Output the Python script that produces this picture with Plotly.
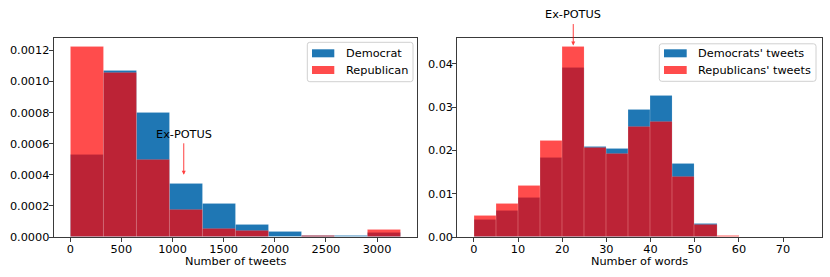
import plotly.graph_objects as go

# ---------------- data ----------------
tweet_bin_edges = [0, 323.2, 646.4, 969.6, 1292.8, 1616.0, 1939.2, 2262.4, 2585.6, 2908.8, 3232.0]
dem_tweets = [0.000528, 0.00107, 0.000800, 0.000339, 0.000212, 0.000077, 0.000032, 0.000005, 0.000008, 0.000028]
rep_tweets = [0.00122, 0.001054, 0.000496, 0.000178, 0.000054, 0.000037, 0.000004, 0.000010, 0.000002, 0.000045]

word_bin_edges = [0, 5, 10, 15, 20, 25, 30, 35, 40, 45, 50, 55, 60, 65, 70, 75]
dem_words = [0.00387, 0.00596, 0.00905, 0.01842, 0.0392, 0.0208, 0.02035, 0.0293, 0.0327, 0.01687, 0.0030, 0.0001, 0, 0, 0]
rep_words = [0.00487, 0.00775, 0.01183, 0.0222, 0.04385, 0.0207, 0.0192, 0.02545, 0.0266, 0.01385, 0.0028, 0.0002, 0, 0, 0]

left_legend = ["Democrat", "Republican"]
right_legend = ["Democrats' tweets", "Republicans' tweets"]
annot_text = "Ex-POTUS"
x_titles = ["Number of tweets", "Number of words"]

# ---------------- style ----------------
W, H = 830, 277
FONT = "DejaVu Sans"
FS = 11.3
BLUE = "#1f77b4"
RED = "rgba(255,0,0,0.7)"
SPINE = "#3a3a3a"
EDGE = dict(color="rgba(255,255,255,0.25)", width=0.5)


def centers(edges):
    return [(a + b) / 2 for a, b in zip(edges[:-1], edges[1:])]


def widths(edges):
    return [b - a for a, b in zip(edges[:-1], edges[1:])]


def px(x):
    return x / W


def py(y):
    return 1 - y / H


fig = go.Figure()

for edges, dem, rep, xa, ya in [
    (tweet_bin_edges, dem_tweets, rep_tweets, "x", "y"),
    (word_bin_edges, dem_words, rep_words, "x2", "y2"),
]:
    fig.add_trace(go.Bar(x=centers(edges), y=dem, width=widths(edges), xaxis=xa, yaxis=ya,
                         marker=dict(color=BLUE, line=EDGE), showlegend=False))
    fig.add_trace(go.Bar(x=centers(edges), y=rep, width=widths(edges), xaxis=xa, yaxis=ya,
                         marker=dict(color=RED, line=EDGE), showlegend=False))

# axes geometry (pixels)
L_x0, L_x1 = 53.7, 417.3
R_x0, R_x1 = 457.3, 821.7
Y_top, Y_bot = 37.8, 237.0

axis_common = dict(showline=True, linecolor=SPINE, linewidth=1, mirror=True, ticks="outside",
                   ticklen=4, tickwidth=1, tickcolor=SPINE, showgrid=False, zeroline=False,
                   automargin=False, tickfont=dict(family=FONT, size=FS, color="black"))

lmax = tweet_bin_edges[-1]
rmax = word_bin_edges[-1]
ly = max(max(dem_tweets), max(rep_tweets)) * 1.05
ry = max(max(dem_words), max(rep_words)) * 1.05

fig.update_layout(
    width=W, height=H, autosize=False,
    margin=dict(l=0, r=0, t=0, b=0, autoexpand=False),
    paper_bgcolor="white", plot_bgcolor="white",
    barmode="overlay", bargap=0,
    font=dict(family=FONT, size=FS, color="black"),
    xaxis=dict(domain=[px(L_x0), px(L_x1)], range=[-0.05 * lmax, 1.05 * lmax], dtick=500, tick0=0,
               anchor="y", ticklabelstandoff=-3, **axis_common),
    yaxis=dict(domain=[py(Y_bot), py(Y_top)], range=[0, ly], dtick=0.0002, tickformat=".4f",
               anchor="x", ticklabelstandoff=-3, **axis_common),
    xaxis2=dict(domain=[px(R_x0), px(R_x1)], range=[-0.05 * rmax, 1.05 * rmax], dtick=10, tick0=0,
                anchor="y2", ticklabelstandoff=-3, **axis_common),
    yaxis2=dict(domain=[py(Y_bot), py(Y_top)], range=[0, ry], dtick=0.01, tickformat=".2f",
                anchor="x2", ticklabelstandoff=-3, **axis_common),
)

# axis titles
for title, xc in zip(x_titles, [(L_x0 + L_x1) / 2, (R_x0 + R_x1) / 2]):
    fig.add_annotation(x=px(xc), y=py(261), xref="paper", yref="paper", text=title, showarrow=False,
                       xanchor="center", yanchor="middle", font=dict(family=FONT, size=FS, color="black"))

# ---------------- annotations ----------------
fig.add_annotation(x=1110, y=0.0004, xref="x", yref="y", text="", showarrow=True,
                   ax=0, ay=-33, arrowhead=2, arrowsize=0.8, arrowwidth=1, arrowcolor="rgba(255,0,0,0.75)")
fig.add_annotation(x=1110, y=py(134), xref="x", yref="paper", text=annot_text, showarrow=False,
                   font=dict(family=FONT, size=FS, color="black"), xanchor="center", yanchor="middle")
fig.add_annotation(x=22.5, y=0.04425, xref="x2", yref="y2", text="", showarrow=True,
                   ax=0, ay=-23, arrowhead=2, arrowsize=0.8, arrowwidth=1, arrowcolor="rgba(255,0,0,0.75)")
fig.add_annotation(x=22.5, y=py(15), xref="x2", yref="paper", text=annot_text, showarrow=False,
                   font=dict(family=FONT, size=FS, color="black"), xanchor="center", yanchor="middle")


# ---------------- manual legends ----------------
def rounded_rect(x0, y0, x1, y1, r=2.5):
    pts = [
        f"M {px(x0 + r)},{py(y0)}", f"L {px(x1 - r)},{py(y0)}", f"Q {px(x1)},{py(y0)} {px(x1)},{py(y0 + r)}",
        f"L {px(x1)},{py(y1 - r)}", f"Q {px(x1)},{py(y1)} {px(x1 - r)},{py(y1)}",
        f"L {px(x0 + r)},{py(y1)}", f"Q {px(x0)},{py(y1)} {px(x0)},{py(y1 - r)}",
        f"L {px(x0)},{py(y0 + r)}", f"Q {px(x0)},{py(y0)} {px(x0 + r)},{py(y0)}", "Z",
    ]
    return " ".join(pts)


def legend(box, patch_x, text_x, labels):
    bx0, by0, bx1, by1 = box
    fig.add_shape(type="path", path=rounded_rect(bx0, by0, bx1, by1), xref="paper", yref="paper",
                  line=dict(color="#d0d0d0", width=1), fillcolor="rgba(255,255,255,0.8)", layer="above")
    rows = [53.3, 70.0]
    for lab, yc, col in zip(labels, rows, [BLUE, RED]):
        fig.add_shape(type="rect", xref="paper", yref="paper",
                      x0=px(patch_x[0]), x1=px(patch_x[1]), y0=py(yc + 4), y1=py(yc - 4),
                      line=dict(width=0), fillcolor=col, layer="above")
        fig.add_annotation(x=px(text_x), y=py(yc), xref="paper", yref="paper", text=lab, showarrow=False,
                           xanchor="left", yanchor="middle", font=dict(family=FONT, size=FS, color="black"))


legend((307.3, 42.3, 413.0, 81.7), (312, 334.3), 343.5, left_legend)
legend((659.3, 43.8, 816.0, 81.3), (664, 686.7), 695.5, right_legend)

fig.write_html("out.html", config={"displayModeBar": False},
               post_script="document.body.style.margin='0';document.body.style.overflow='hidden';")
